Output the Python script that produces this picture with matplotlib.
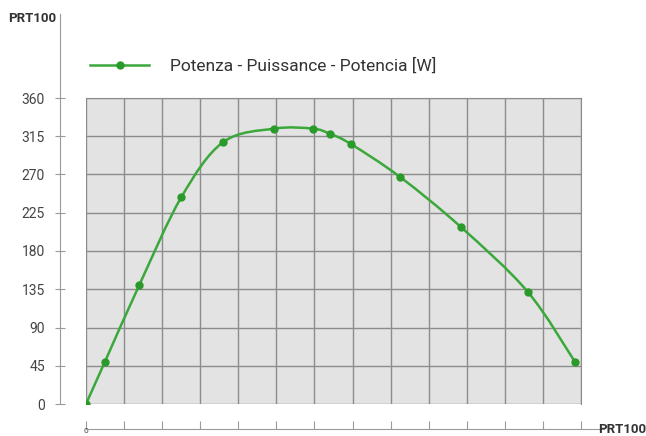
import numpy as np
import matplotlib.pyplot as plt
from matplotlib.path import Path
from matplotlib.patches import PathPatch

plt.rcParams['font.family'] = ['Roboto', 'DejaVu Sans']

# PRT100 position vs power (W)
x = [0, 0.5, 1.4, 2.5, 3.6, 4.95, 5.95, 6.4, 6.95, 8.25, 9.85, 11.6, 12.85]
power = [0, 50, 140, 243, 308, 324, 324, 318, 306, 267, 208, 132, 49]
yticks = [0, 45, 90, 135, 180, 225, 270, 315, 360]
xticks = list(range(14))
label = "Potenza - Puissance - Potencia [W]"

green = "#3aa83a"
dark_green = "#2a9a2a"

fig = plt.figure(figsize=(6.46, 4.36), dpi=100)
W, H = 646, 436
ax = fig.add_axes([86 / W, (H - 404) / H, (581 - 86) / W, (404 - 98) / H])
ax.set_facecolor("#e3e3e3")
ax.set_xlim(0, 13)
ax.set_ylim(0, 360)

# grid
ax.set_xticks(xticks)
ax.set_yticks(yticks)
ax.grid(True, color="#8c8c8c", linewidth=1)
ax.set_axisbelow(True)

# box edges and offset axis lines
for s in ("top", "right"):
    ax.spines[s].set_color("#8c8c8c")
ax.spines["left"].set_position(("outward", 19))
ax.spines["bottom"].set_position(("outward", 18))
ax.spines["left"].set_bounds(0, 459)
ax.spines["bottom"].set_bounds(0, 13.6)
for s in ("left", "bottom"):
    ax.spines[s].set_color("#9a9a9a")
ax.tick_params(axis="y", direction="inout", length=7, color="#9a9a9a",
               labelsize=10, labelcolor="#444444", pad=7)
ax.tick_params(axis="x", direction="in", length=6, color="#9a9a9a",
               labelsize=6, labelcolor="#444444", pad=-1)
ax.set_xticklabels(["0"] + [""] * 13)

# smooth curve through the points (Catmull-Rom as cubic Bezier)
pts = np.column_stack([x, power]).astype(float)
ext = np.vstack([pts[0], pts, pts[-1]])
verts = [tuple(pts[0])]
codes = [Path.MOVETO]
for i in range(1, len(ext) - 2):
    p0, p1, p2, p3 = ext[i - 1], ext[i], ext[i + 1], ext[i + 2]
    verts += [tuple(p1 + (p2 - p0) / 6), tuple(p2 - (p3 - p1) / 6), tuple(p2)]
    codes += [Path.CURVE4] * 3
ax.add_patch(PathPatch(Path(verts, codes), facecolor="none",
                       edgecolor=green, linewidth=1.8, zorder=3))
ax.plot(x, power, linestyle="none", marker="o", markersize=5,
        color=dark_green, zorder=4)

# legend
ax.plot([], [], color=green, linewidth=1.8, marker="o", markersize=5,
        markerfacecolor=dark_green, markeredgecolor=dark_green, label=label)
leg = ax.legend(loc="center left", bbox_to_anchor=(90 / W, (H - 66) / H),
                bbox_transform=fig.transFigure, frameon=False, borderpad=0,
                numpoints=1, handlelength=3.4, handletextpad=1.2,
                borderaxespad=0, fontsize=12.5)
for t in leg.get_texts():
    t.set_color("#333333")

fig.text(32 / W, (H - 18) / H, "PRT100", fontsize=9.5, fontweight="bold",
         color="#333333", ha="center", va="center")
fig.text(622 / W, (H - 429) / H, "PRT100", fontsize=9.5, fontweight="bold",
         color="#333333", ha="center", va="center")

fig.savefig("out.png", dpi=100)
